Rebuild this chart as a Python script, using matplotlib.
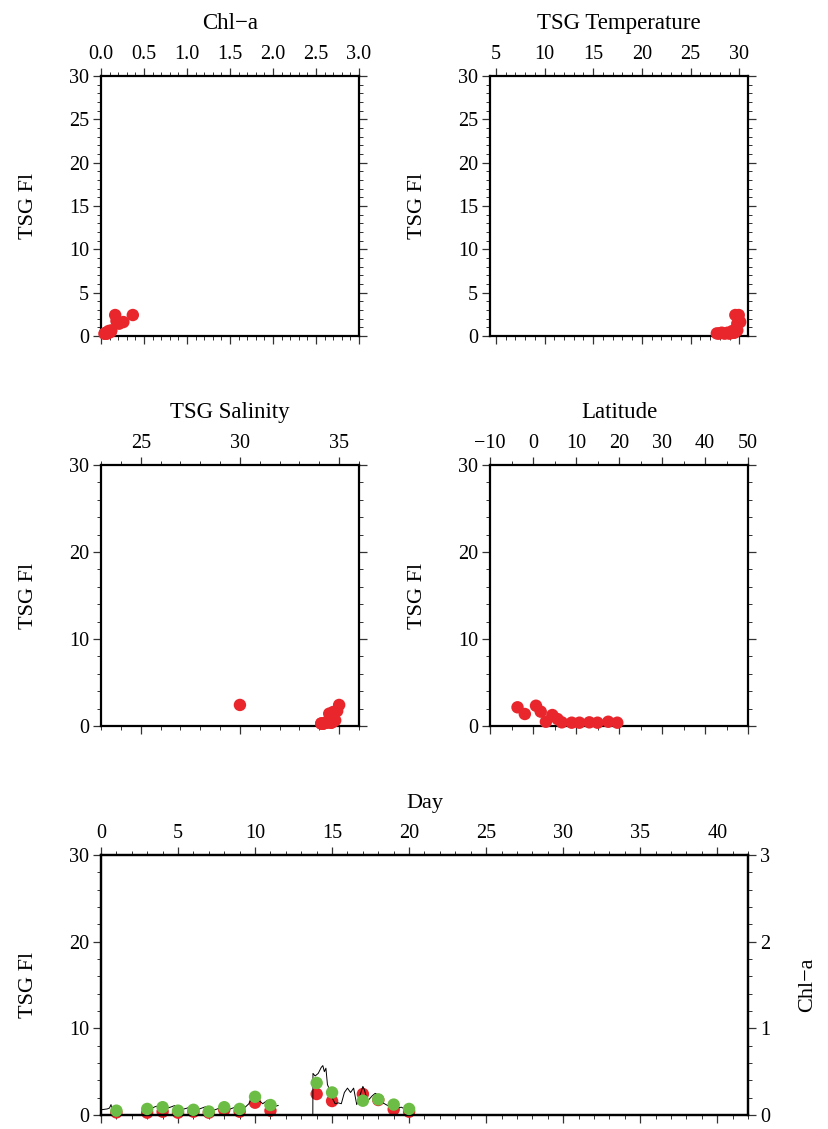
import matplotlib
matplotlib.use("Agg")
import matplotlib.pyplot as plt
import numpy as np
from matplotlib.ticker import MultipleLocator, FormatStrFormatter

plt.rcParams["font.family"] = ["Liberation Serif", "DejaVu Serif"]
plt.rcParams["font.size"] = 14.5
plt.rcParams["axes.titlesize"] = 16.5
plt.rcParams["axes.labelsize"] = 16
plt.rcParams["axes.unicode_minus"] = True

W, H = 829, 1129
RED = "#e8262b"
GREEN = "#6cbd45"

# bottle samples (one entry per station)
sample_day = [1, 3, 4, 5, 6, 7, 8, 9, 10, 11, 14, 15, 17, 18, 19, 20]
sample_fl = [0.30, 0.27, 0.38, 0.27, 0.38, 0.27, 0.58, 0.38, 1.42, 0.50,
             2.42, 1.61, 2.42, 1.73, 0.65, 0.38]
sample_chl = [0.05, 0.07, 0.09, 0.05, 0.06, 0.04, 0.09, 0.07, 0.21, 0.115,
              0.37, 0.26, 0.165, 0.18, 0.12, 0.07]
sample_temp = [27.7, 27.9, 28.2, 28.5, 28.8, 29.0, 29.3, 29.5, 29.8, 29.6,
               29.6, 30.1, 29.95, 30.0, 29.8, 29.4]
sample_sal = [34.1, 34.2, 34.3, 34.1, 34.4, 34.2, 34.5, 34.6, 34.5, 34.7,
              30.0, 34.7, 35.0, 34.9, 34.8, 34.6]

# latitude vs underway fluorescence
lat_pts = [-3.6, -1.9, 0.7, 1.8, 3.0, 4.5, 5.7, 6.7, 9.0, 10.8, 13.1, 15.0, 17.5, 19.6]
lat_fl = [2.15, 1.38, 2.33, 1.65, 0.49, 1.26, 0.80, 0.42, 0.38, 0.38, 0.42, 0.38, 0.49, 0.38]

# continuous TSG fluorescence record (nan = no data)
trace_day = [0.0, 0.2, 0.4, 0.55, 0.65, 0.72, 0.9, 1.1, 1.3, 1.31,
             2.8, 3.2, 3.5, 3.7, 3.8, 4.1, 4.5, 4.8, 4.9, 5.3, 5.6, 5.9, 6.0,
             6.4, 6.7, 6.9, 7.0, 7.4, 7.7, 7.9, 8.0, 8.4, 8.7, 8.9, 9.0, 9.3,
             9.6, 9.8, 10.0, 10.3, 10.5, 10.8, 11.0, 11.3, 11.5, 11.51,
             13.75, 13.76, 13.9, 14.1, 14.3, 14.4, 14.5, 14.6, 14.7, 14.85,
             15.0, 15.2, 15.4, 15.6, 15.8, 16.0, 16.2, 16.4, 16.6, 16.8, 17.0,
             17.1, 17.3, 17.6, 17.8, 18.0, 18.3, 18.5, 18.8, 19.2, 19.5, 19.8, 20.1]
trace_fl = [0.6, 0.65, 0.7, 0.8, 1.2, 0.6, 0.55, 0.5, 0.5, np.nan,
            0.6, 0.7, 0.95, 1.05, 0.6, 0.7, 0.9, 1.1, 0.55, 0.65, 0.8, 1.0, 0.6,
            0.7, 0.9, 1.0, 0.5, 0.6, 0.8, 1.1, 0.6, 0.7, 0.9, 1.2, 0.7, 0.8,
            1.3, 2.0, 1.9, 1.6, 1.3, 1.7, 0.9, 1.0, 1.1, np.nan,
            0.0, 4.8, 4.5, 4.8, 5.5, 5.7, 5.0, 5.4, 3.5, 2.9,
            2.0, 1.3, 1.4, 1.3, 2.6, 3.1, 2.6, 3.1, 1.2, 2.2, 3.3,
            2.9, 1.6, 2.2, 2.5, 2.3, 1.4, 1.2, 0.9, 0.8, 0.9, 0.6, 0.5]


def px_axes(fig, left, top, right, bottom):
    return fig.add_axes([left / W, 1 - bottom / H, (right - left) / W, (bottom - top) / H])


def style(ax, xmaj, xmin, ymaj, ymin, right=True):
    ax.xaxis.set_major_locator(MultipleLocator(xmaj))
    ax.xaxis.set_minor_locator(MultipleLocator(xmin))
    ax.yaxis.set_major_locator(MultipleLocator(ymaj))
    ax.yaxis.set_minor_locator(MultipleLocator(ymin))
    ax.tick_params(which="both", direction="out", top=True, bottom=True,
                   left=True, right=right, labeltop=True, labelbottom=False,
                   labelleft=True, labelright=False, color="#333333")
    ax.tick_params(which="major", length=5.5, width=0.9, pad=3)
    ax.tick_params(which="minor", length=2.8, width=0.7)
    for s in ax.spines.values():
        s.set_linewidth(1.6)
    ax.set_ylabel("TSG Fl")


def scatter_panel(ax, x, y, title):
    ax.scatter(x, y, s=80, color=RED, edgecolors="none", clip_on=False, zorder=3)
    ax.set_title(title, pad=12)
    ax.yaxis.set_label_coords(-0.245, 0.5)


fig = plt.figure(figsize=(W / 100, H / 100), dpi=100)

ax1 = px_axes(fig, 101, 76, 359, 336)
scatter_panel(ax1, sample_chl, sample_fl, "Chl\u2212a")
ax1.set_xlim(0, 3)
ax1.set_ylim(0, 30)
style(ax1, 0.5, 0.1, 5, 1)
ax1.xaxis.set_major_formatter(FormatStrFormatter("%.1f"))

ax2 = px_axes(fig, 490, 76, 748, 336)
scatter_panel(ax2, sample_temp, sample_fl, "TSG Temperature")
ax2.set_xlim(4.4, 30.9)
ax2.set_ylim(0, 30)
style(ax2, 5, 1, 5, 1)

ax3 = px_axes(fig, 101, 465, 359, 726)
scatter_panel(ax3, sample_sal, sample_fl, "TSG Salinity")
ax3.set_xlim(23, 36)
ax3.set_ylim(0, 30)
style(ax3, 5, 1, 10, 2)

ax4 = px_axes(fig, 490, 465, 748, 726)
scatter_panel(ax4, lat_pts, lat_fl, "Latitude")
ax4.set_xlim(-10, 50)
ax4.set_ylim(0, 30)
style(ax4, 10, 5, 10, 2)

# time series: fluorescence record, samples and bottle chlorophyll
ax5 = px_axes(fig, 101, 855, 748, 1115)
ax5.scatter(sample_day, sample_fl, s=80, color=RED, edgecolors="none", zorder=2, clip_on=False)
ax5.plot(trace_day, trace_fl, color="black", lw=0.7, zorder=3)
ax5.set_xlim(0, 42)
ax5.set_ylim(0, 30)
style(ax5, 5, 1, 10, 2, right=False)
ax5.xaxis.set_label_position("top")
ax5.set_xlabel("Day", labelpad=12)
ax5.yaxis.set_label_coords(-0.0975, 0.5)

ax6 = ax5.twinx()
ax6.scatter(sample_day, sample_chl, s=80, color=GREEN, edgecolors="none", zorder=4, clip_on=False)
ax6.set_ylim(0, 3)
ax6.yaxis.set_major_locator(MultipleLocator(1))
ax6.yaxis.set_minor_locator(MultipleLocator(0.2))
ax6.tick_params(which="both", direction="out", color="#333333")
ax6.tick_params(which="major", length=5.5, width=0.9, pad=3)
ax6.tick_params(which="minor", length=2.8, width=0.7)
for s in ax6.spines.values():
    s.set_linewidth(1.6)
ax6.set_ylabel("Chl\u2212a")
ax6.yaxis.set_label_coords(1.078, 0.5)

fig.savefig("out.png", dpi=100)
